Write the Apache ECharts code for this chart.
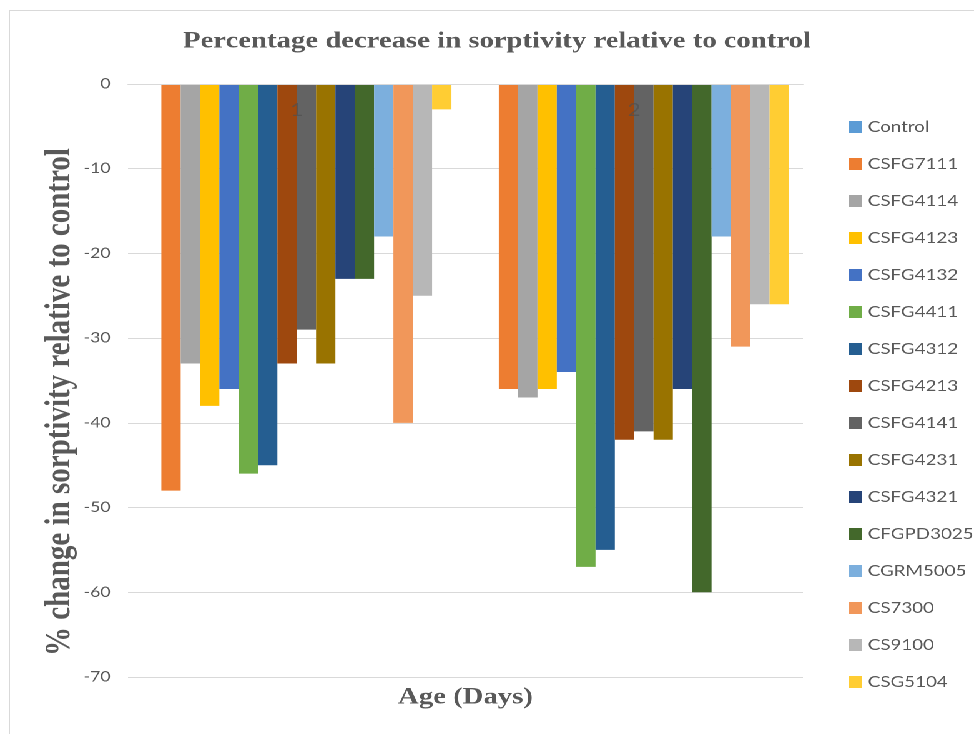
<!DOCTYPE html>
<html>
<head>
<meta charset="utf-8">
<script src="https://cdn.jsdelivr.net/npm/echarts@6/dist/echarts.min.js"></script>
<style>
html,body{margin:0;padding:0;background:#fff;overflow:hidden}
#c{width:780px;height:734px;transform:scaleX(1.24872);transform-origin:0 0}
</style>
</head>
<body>
<div id="c"></div>
<script>
const categories = ['1', '2'];
const seriesNames = ['Control','CSFG7111','CSFG4114','CSFG4123','CSFG4132','CSFG4411','CSFG4312','CSFG4213','CSFG4141','CSFG4231','CSFG4321','CFGPD3025','CGRM5005','CS7300','CS9100','CSG5104'];
const day1Values = [0,-48,-33,-38,-36,-46,-45,-33,-29,-33,-23,-23,-18,-40,-25,-3];
const day2Values = [0,-36,-37,-36,-34,-57,-55,-42,-41,-42,-36,-60,-18,-31,-26,-26];
const seriesColors = ['#5B9BD5','#ED7D31','#A5A5A5','#FFC000','#4472C4','#70AD47','#255E91','#9E480E','#636363','#997300','#264478','#43682B','#7CAFDD','#F1975A','#B7B7B7','#FFCD33'];
const yTicks = { min: -70, max: 0, interval: 10 };

const chart = echarts.init(document.getElementById('c'), null, { renderer: 'canvas', devicePixelRatio: 2 });
const series = seriesNames.map((name, i) => ({
  name: name,
  type: 'bar',
  xAxisIndex: 0,
  data: [day1Values[i], day2Values[i]],
  itemStyle: { color: seriesColors[i] },
  barGap: 0,
  barCategoryGap: '8.3%',
  z: 2
}));

chart.setOption({
  animation: false,
  color: seriesColors,
  graphic: [{
    type: 'rect', shape: { x: 7.5, y: 10.5, width: 1000, height: 900 },
    style: { fill: 'none', stroke: '#d9d9d9', lineWidth: 1 }, silent: true, z: -10
  }],
  title: {
    text: 'Percentage decrease in sorptivity relative to control',
    left: 398, top: 30, textAlign: 'center', padding: 0,
    textStyle: { fontFamily: 'Liberation Serif', fontWeight: 'bold', fontSize: 23, color: '#595959' }
  },
  legend: {
    orient: 'vertical', left: 675, top: 113, icon: 'rect',
    itemWidth: 10, itemHeight: 12, itemGap: 19,
    textStyle: { fontFamily: 'Lato', fontSize: 15, color: '#595959', lineHeight: 18 },
    data: seriesNames
  },
  grid: { left: 102.5, right: 137, top: 84, bottom: 57 },
  xAxis: [{
    type: 'category', data: categories, position: 'top', zlevel: 1,
    axisLine: { show: true, onZero: false, lineStyle: { color: '#d9d9d9', width: 1 } },
    axisTick: { show: false },
    axisLabel: { inside: true, margin: 17, fontFamily: 'Lato', fontSize: 18, color: 'rgba(80,80,80,0.7)' },
    z: 10
  }, {
    type: 'category', data: categories, position: 'bottom',
    name: 'Age (Days)', nameLocation: 'middle', nameGap: 9,
    nameTextStyle: { fontFamily: 'Liberation Serif', fontWeight: 'bold', fontSize: 23, color: '#595959' },
    axisLine: { show: false }, axisTick: { show: false }, axisLabel: { show: false }
  }],
  yAxis: {
    type: 'value', min: yTicks.min, max: yTicks.max, interval: yTicks.interval,
    name: '% change in sorptivity relative to control', nameLocation: 'middle', nameGap: 40,
    nameMoveOverlap: false,
    nameTextStyle: { fontFamily: 'Liberation Serif', fontWeight: 'bold', fontSize: 29, color: '#595959', padding: [0, 43, 0, 0] },
    axisLine: { show: false }, axisTick: { show: false },
    axisLabel: { margin: 14, fontFamily: 'Lato', fontSize: 14, color: '#595959' },
    splitLine: { lineStyle: { color: '#d9d9d9', width: 1 } }
  },
  series: series
});
</script>
</body>
</html>
